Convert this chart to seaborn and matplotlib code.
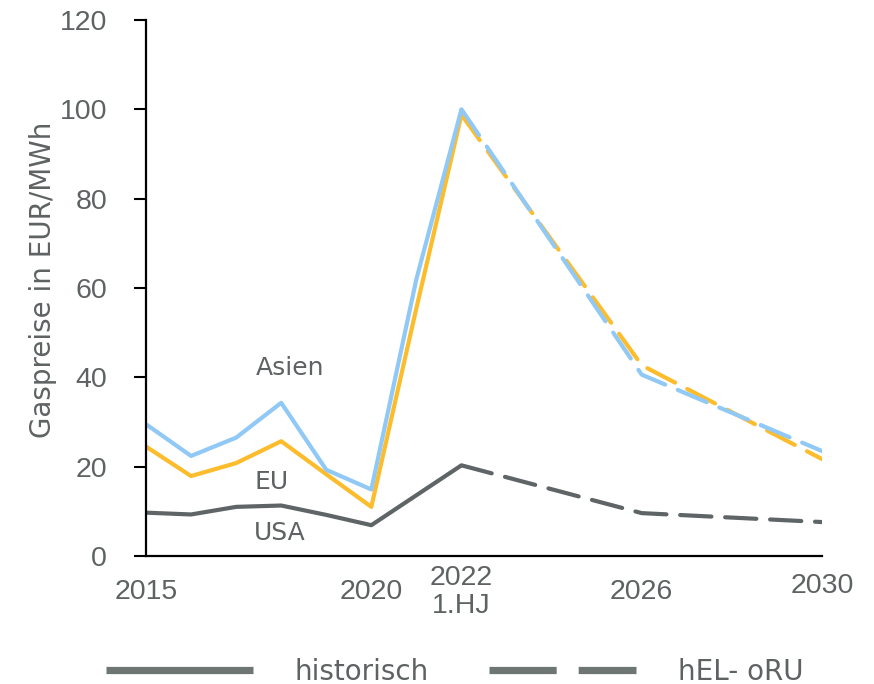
import matplotlib
matplotlib.use("Agg")
import matplotlib.pyplot as plt
import matplotlib.transforms as mtransforms
from matplotlib.lines import Line2D
import seaborn as sns
import pandas as pd

# Historical gas prices (EUR/MWh), 2015 to first half of 2022
hist_years = [2015, 2016, 2017, 2018, 2019, 2020, 2021, 2022]
asien_hist = [29.5, 22.4, 26.5, 34.3, 19.3, 14.9, 62.0, 100.0]
eu_hist = [24.5, 17.9, 20.8, 25.7, 18.3, 11.0, 55.5, 98.8]
usa_hist = [9.7, 9.3, 11.0, 11.3, 9.2, 6.9, 13.6, 20.3]

# Scenario path hEL- oRU
proj_years = [2022, 2026, 2030]
asien_proj = [100.0, 40.6, 23.5]
eu_proj = [98.8, 42.7, 21.7]
usa_proj = [20.3, 9.6, 7.6]

tick_years = [2015, 2020, 2022, 2026, 2030]
tick_labels = ["2015", "2020", "2022\n1.HJ", "2026", "2030"]

regions = ["EU", "Asien", "USA"]
hist_vals = {"Asien": asien_hist, "EU": eu_hist, "USA": usa_hist}
proj_vals = {"Asien": asien_proj, "EU": eu_proj, "USA": usa_proj}

rows = []
for r in regions:
    for y, v in zip(hist_years, hist_vals[r]):
        rows.append({"Jahr": y, "Preis": v, "Region": r, "Phase": "historisch"})
    for y, v in zip(proj_years, proj_vals[r]):
        rows.append({"Jahr": y, "Preis": v, "Region": r, "Phase": "hEL- oRU"})
df = pd.DataFrame(rows)

sns.set_theme(style="white")
plt.rcParams["font.family"] = ["DejaVu Sans"]
num_font = ["Liberation Sans", "DejaVu Sans"]

text_color = "#5e6262"
palette = {"Asien": "#90c8f6", "EU": "#fdbc2c", "USA": "#5f6566"}
dash_map = {"historisch": "", "hEL- oRU": (7.5, 3.3)}

fig = plt.figure(figsize=(8.74, 6.84), dpi=100)
ax = fig.add_axes([146 / 874, 1 - 556 / 684, (822 - 146) / 874, (556 - 20) / 684])

sns.lineplot(data=df, x="Jahr", y="Preis", hue="Region", style="Phase",
             hue_order=regions, palette=palette, dashes=dash_map,
             estimator=None, sort=False, linewidth=3.0, legend=False, ax=ax)
for line in ax.get_lines():
    line.set_dash_capstyle("round")
    line.set_solid_capstyle("butt")

ax.set_xlim(2015, 2030)
ax.set_ylim(0, 120)
ax.set_yticks(range(0, 121, 20))
ax.set_xticks(tick_years)
ax.set_xticklabels(tick_labels, va="center", linespacing=1.1)
ax.tick_params(axis="x", length=0, pad=26)
ax.tick_params(axis="y", length=9, width=1.5, color="black", direction="out",
               pad=19, left=True)
for lbl in ax.get_xticklabels() + ax.get_yticklabels():
    lbl.set_fontfamily(num_font)
    lbl.set_fontsize(20.5)
    lbl.set_color(text_color)
ax.set_xlabel("")
ax.set_ylabel("Gaspreise in EUR/MWh", fontsize=20, color=text_color, labelpad=2)
ax.yaxis.label.set_y(0.515)

for side in ["top", "right"]:
    ax.spines[side].set_visible(False)
for side in ["left", "bottom"]:
    ax.spines[side].set_color("black")
    ax.spines[side].set_linewidth(1.6)

# The last tick label sits a little higher
lbl = ax.get_xticklabels()[-1]
lbl.set_transform(lbl.get_transform() + mtransforms.ScaledTranslation(0, 6 / 100, fig.dpi_scale_trans))

# Region labels
for name, x, y in [("Asien", 2018.2, 42.1), ("EU", 2017.78, 16.6), ("USA", 2017.96, 5.1)]:
    ax.text(x, y, name, fontsize=18, color=text_color, ha="center", va="center")

legend_color = "#6e7673"
handles = [
    Line2D([0], [0], color=legend_color, lw=5.2, solid_capstyle="butt"),
    Line2D([0], [0], color=legend_color, lw=5.2, dashes=(9.3, 3.05), dash_capstyle="butt"),
]
fig.legend(handles, ["historisch", "hEL- oRU"], loc="center", ncol=2,
           bbox_to_anchor=(0.52, 0.018), frameon=False, fontsize=20,
           labelcolor=text_color, handlelength=5.3, handletextpad=1.5,
           columnspacing=2.15)

fig.savefig("out.png", dpi=100)
